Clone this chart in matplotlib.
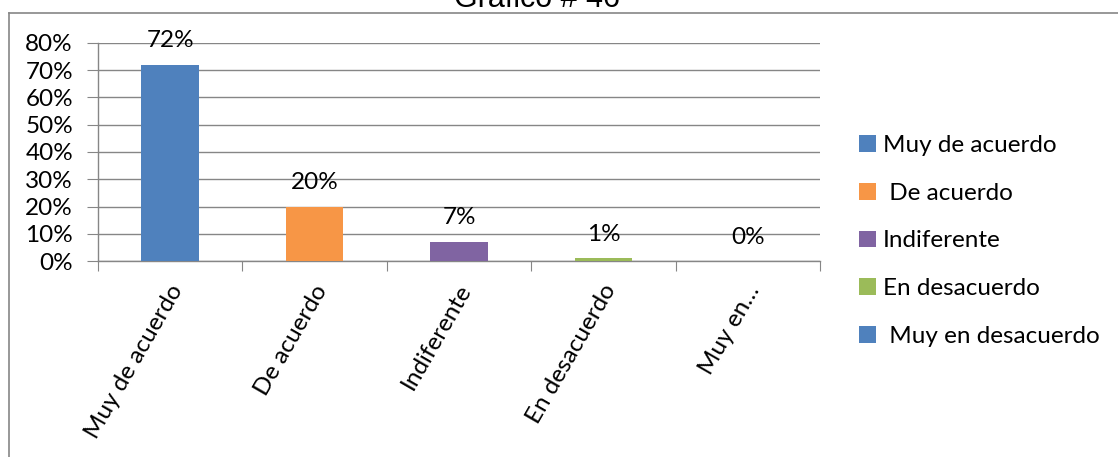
import matplotlib
matplotlib.use("Agg")
import matplotlib.pyplot as plt
from matplotlib.patches import Patch
from matplotlib.lines import Line2D

categories = ["Muy de acuerdo", "De acuerdo", "Indiferente", "En desacuerdo", "Muy en…"]
legend_labels = ["Muy de acuerdo", " De acuerdo", "Indiferente", "En desacuerdo", " Muy en desacuerdo"]
values = [0.72, 0.20, 0.07, 0.01, 0.0]
value_labels = ["72%", "20%", "7%", "1%", "0%"]
colors = ["#4F81BD", "#F79646", "#8064A2", "#9BBB59", "#4F81BD"]
yticks = [0, 0.1, 0.2, 0.3, 0.4, 0.5, 0.6, 0.7, 0.8]
ytick_labels = ["0%", "10%", "20%", "30%", "40%", "50%", "60%", "70%", "80%"]
title = "Grafico # 46"

W, H = 1118, 457
FONT = "Lato"
FS = 17.5
fig = plt.figure(figsize=(W / 100, H / 100), dpi=100)

# chart area border (left and top visible)
fig.add_artist(Line2D([9 / W, 9 / W], [0, 1 - 13 / H], color="#868686", lw=1.2))
fig.add_artist(Line2D([9 / W, 1], [1 - 13 / H, 1 - 13 / H], color="#868686", lw=1.2))

fig.text(537 / W, 1 - 7 / H, title, ha="center", va="baseline",
         fontsize=22, family="Liberation Sans")

ax = fig.add_axes([98 / W, 196 / H, (820 - 98) / W, (261 - 43) / H])
x = list(range(len(categories)))
ax.bar(x, values, width=0.4, color=colors, zorder=3)
ax.set_xlim(-0.5, len(categories) - 0.5)
ax.set_ylim(0, 0.8)
ax.set_yticks(yticks)
ax.set_yticklabels(ytick_labels, family=FONT, fontsize=FS)
ax.grid(axis="y", color="#868686", lw=1, zorder=0)
for s in ["top", "right"]:
    ax.spines[s].set_visible(False)
for s in ["left", "bottom"]:
    ax.spines[s].set_color("#868686")
    ax.spines[s].set_linewidth(1)
ax.tick_params(axis="y", length=8, color="#868686", pad=10)
ax.set_xticks([i - 0.5 for i in range(len(categories) + 1)])
ax.set_xticklabels([])
ax.tick_params(axis="x", length=7, color="#868686")

for i, (v, lab) in enumerate(zip(values, value_labels)):
    ax.annotate(lab, (i, v), xytext=(0, 24), textcoords="offset pixels",
                ha="center", va="center", family=FONT, fontsize=FS)

for i, c in enumerate(categories):
    ax.annotate(c, (i, 0), xytext=(-2, -20), textcoords="offset pixels",
                ha="right", va="top", rotation=60, rotation_mode="anchor",
                family=FONT, fontsize=FS, annotation_clip=False)

handles = [Patch(facecolor=c, edgecolor="none") for c in colors]
fig.legend(handles, legend_labels, loc="upper left",
           bbox_to_anchor=(859 / W, 1 - 135 / H), frameon=False,
           prop={"family": FONT, "size": FS}, handlelength=0.68,
           handleheight=0.68, handletextpad=0.3, labelspacing=1.1,
           borderpad=0, borderaxespad=0)

fig.savefig("out.png", dpi=100)
